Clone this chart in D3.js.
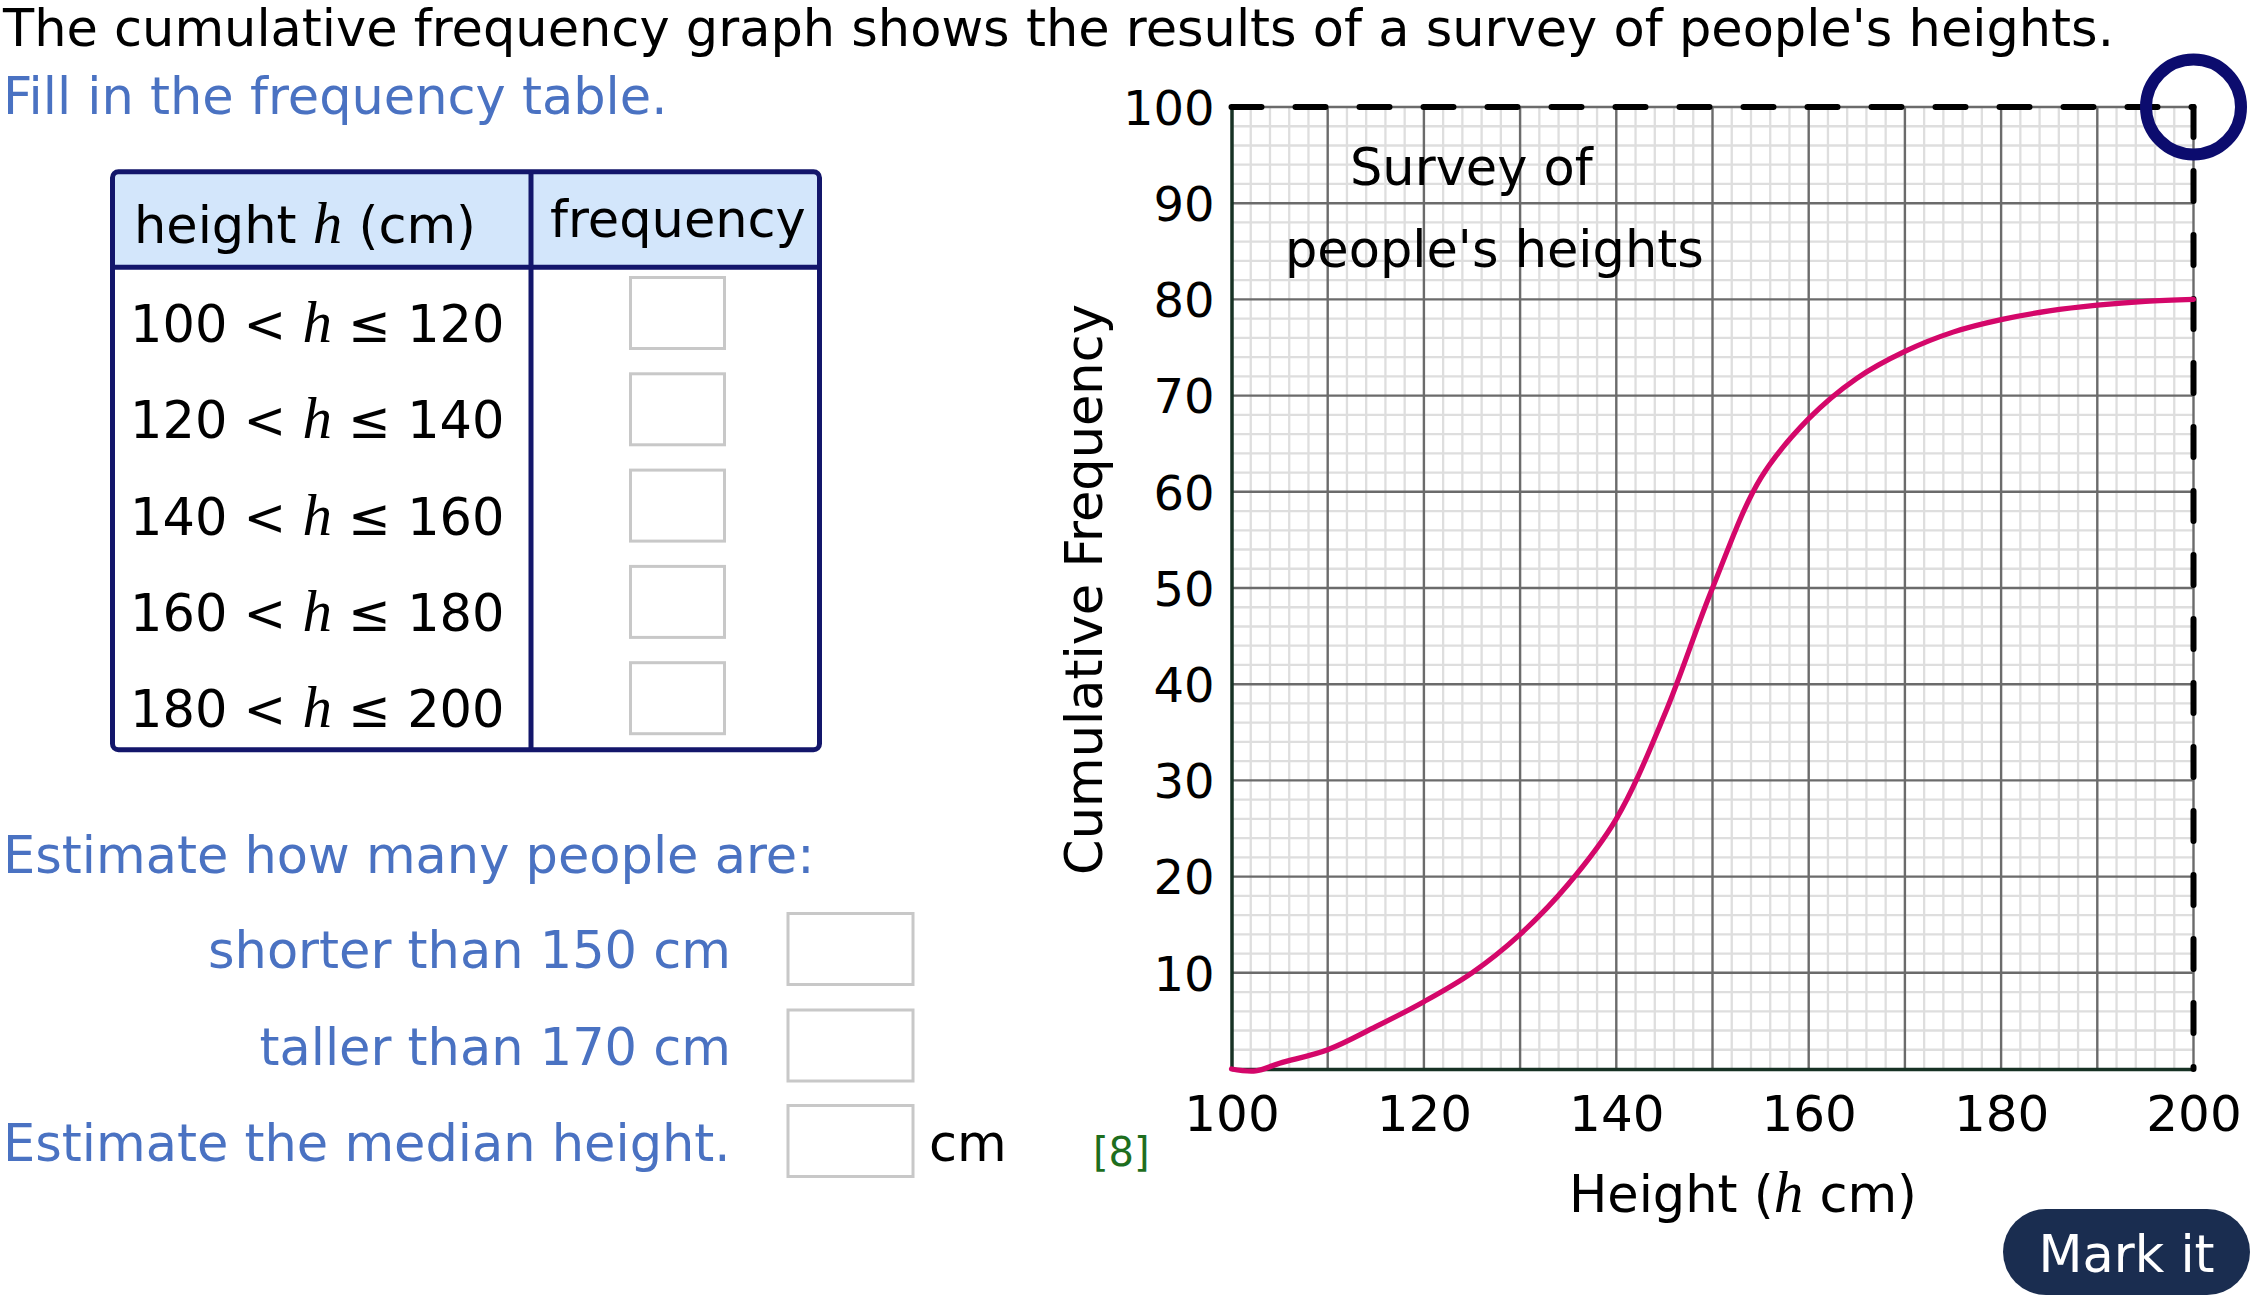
<!DOCTYPE html>
<html>
<head>
<meta charset="utf-8">
<script src="https://cdn.jsdelivr.net/npm/d3@7"></script>
<style>
  body { margin: 0; background: #fff; }
  svg { display: block; font-family: "DejaVu Sans", Verdana, sans-serif; }
</style>
</head>
<body>
<div id="page"></div>
<script>
// curve: height (cm) -> cumulative frequency
const heights = [100, 102.5, 105, 110, 115, 120, 125, 130, 135, 140, 145, 150, 155, 160, 165, 170, 175, 180, 185, 190, 195, 200];
const cumFreq = [0, -0.2, 0.6, 2.0, 4.4, 7.0, 10.0, 14.0, 19.2, 26.0, 36.8, 50, 61.4, 67.6, 71.8, 74.6, 76.6, 77.9, 78.8, 79.4, 79.8, 80];
const xTicks = [100, 120, 140, 160, 180, 200];
const yTicks = [10, 20, 30, 40, 50, 60, 70, 80, 90, 100];
const classLower = [100, 120, 140, 160, 180];
const classUpper = [120, 140, 160, 180, 200];
const questions = ["shorter than 150 cm", "taller than 170 cm"];
const totalPeople = 100;

const width = 2262, height = 1308;
const blue = "#4a72c2", navy = "#13166b", fs = 51;

const svg = d3.select("#page").append("svg")
    .attr("width", width)
    .attr("height", height);

// intro lines
svg.append("text")
    .attr("x", 3).attr("y", 46)
    .attr("font-size", fs)
    .text("The cumulative frequency graph shows the results of a survey of people's heights.");
svg.append("text")
    .attr("x", 3).attr("y", 114)
    .attr("font-size", fs).attr("fill", blue)
    .text("Fill in the frequency table.");

// helper: text with an italic serif h inside
function hText(sel, before, after) {
    sel.append("tspan").text(before);
    sel.append("tspan")
        .attr("font-family", "'Liberation Serif', serif")
        .attr("font-style", "italic")
        .attr("font-size", fs + 8)
        .text("h");
    sel.append("tspan").text(after);
    return sel;
}

// ---- frequency table
const tbl = { x: 112.5, y: 171.7, w: 707, h: 578, head: 95.5, col: 531, row: 96.3 };
const table = svg.append("g");
table.append("rect")
    .attr("x", tbl.x).attr("y", tbl.y)
    .attr("width", tbl.w).attr("height", tbl.head)
    .attr("fill", "#d3e6fb");
table.append("line")
    .attr("x1", tbl.x).attr("x2", tbl.x + tbl.w)
    .attr("y1", tbl.y + tbl.head).attr("y2", tbl.y + tbl.head)
    .attr("stroke", navy).attr("stroke-width", 5);
table.append("line")
    .attr("x1", tbl.col).attr("x2", tbl.col)
    .attr("y1", tbl.y).attr("y2", tbl.y + tbl.h)
    .attr("stroke", navy).attr("stroke-width", 5);
table.append("rect")
    .attr("x", tbl.x).attr("y", tbl.y)
    .attr("width", tbl.w).attr("height", tbl.h)
    .attr("rx", 6)
    .attr("fill", "none").attr("stroke", navy).attr("stroke-width", 5);

hText(table.append("text").attr("x", 134).attr("y", 243).attr("font-size", fs), "height ", " (cm)");
table.append("text")
    .attr("x", 550).attr("y", 237)
    .attr("font-size", fs)
    .text("frequency");

classLower.forEach((lo, i) => {
    hText(table.append("text")
        .attr("x", 130).attr("y", 342 + i * tbl.row)
        .attr("font-size", fs), lo + " < ", " \u2264 " + classUpper[i]);
    table.append("rect")
        .attr("x", 630.5).attr("y", 277.5 + i * tbl.row)
        .attr("width", 94).attr("height", 71)
        .attr("fill", "#fff").attr("stroke", "#c8c8c8").attr("stroke-width", 3);
});

// ---- estimate questions
svg.append("text")
    .attr("x", 3).attr("y", 873)
    .attr("font-size", fs).attr("fill", blue)
    .text("Estimate how many people are:");
questions.forEach((q, i) => {
    svg.append("text")
        .attr("x", 731).attr("y", 968 + i * 96.5)
        .attr("text-anchor", "end")
        .attr("font-size", fs).attr("fill", blue)
        .text(q);
});
svg.append("text")
    .attr("x", 3).attr("y", 1161)
    .attr("font-size", fs).attr("fill", blue)
    .text("Estimate the median height.");
[913.5, 1010, 1105.5].forEach(by => {
    svg.append("rect")
        .attr("x", 788).attr("y", by)
        .attr("width", 125).attr("height", 71)
        .attr("fill", "#fff").attr("stroke", "#c8c8c8").attr("stroke-width", 3);
});
svg.append("text")
    .attr("x", 929).attr("y", 1161)
    .attr("font-size", fs)
    .text("cm");
svg.append("text")
    .attr("x", 1093).attr("y", 1166)
    .attr("font-size", 40).attr("fill", "#1e6e1e")
    .text("[8]");

// ---- cumulative frequency graph
const x = d3.scaleLinear().domain([100, 200]).range([1231.5, 2193.5]);
const y = d3.scaleLinear().domain([0, totalPeople]).range([1069, 107]);
const chart = svg.append("g");

const minorX = d3.range(100, 201, 2).filter(v => v % 10);
const minorY = d3.range(0, 101, 2).filter(v => v % 10);
const majorX = d3.range(110, 201, 10);
const majorY = d3.range(10, 101, 10);

chart.selectAll(".minx").data(minorX).join("line")
    .attr("x1", d => x(d)).attr("x2", d => x(d))
    .attr("y1", y(0)).attr("y2", y(100))
    .attr("stroke", "#dedede").attr("stroke-width", 2.3);
chart.selectAll(".miny").data(minorY).join("line")
    .attr("x1", x(100)).attr("x2", x(200))
    .attr("y1", d => y(d)).attr("y2", d => y(d))
    .attr("stroke", "#dedede").attr("stroke-width", 2.3);
chart.selectAll(".majx").data(majorX).join("line")
    .attr("x1", d => x(d)).attr("x2", d => x(d))
    .attr("y1", y(0)).attr("y2", y(100))
    .attr("stroke", "#6b6b6b").attr("stroke-width", 2.4);
chart.selectAll(".majy").data(majorY).join("line")
    .attr("x1", x(100)).attr("x2", x(200))
    .attr("y1", d => y(d)).attr("y2", d => y(d))
    .attr("stroke", "#6b6b6b").attr("stroke-width", 2.4);

// axes
const xAxis = chart.append("g")
    .attr("transform", `translate(0,${y(0)})`)
    .call(d3.axisBottom(x).tickValues(xTicks).tickSize(0).tickSizeOuter(0));
xAxis.selectAll("text")
    .attr("y", 62).attr("dy", null)
    .attr("font-size", 50).attr("fill", "#000")
    .attr("font-family", "'DejaVu Sans', Verdana, sans-serif");

const yAxis = chart.append("g")
    .attr("transform", `translate(${x(100)},0)`)
    .call(d3.axisLeft(y).tickValues(yTicks).tickSize(0).tickSizeOuter(0));
yAxis.selectAll("text")
    .attr("x", -17).attr("dy", "0.36em")
    .attr("font-size", 48).attr("fill", "#000")
    .attr("font-family", "'DejaVu Sans', Verdana, sans-serif");
[xAxis, yAxis].forEach(a => a.select(".domain").attr("stroke", "#173224").attr("stroke-width", 3.5));

// dashed frame at 100 people
chart.append("path")
    .attr("d", d3.line()([[x(100), y(100)], [x(200), y(100)]]))
    .attr("fill", "none").attr("stroke", "#000")
    .attr("stroke-width", 6).attr("stroke-dasharray", "30,34").attr("stroke-linecap", "round");
chart.append("path")
    .attr("d", d3.line()([[x(200), y(100)], [x(200), y(0)]]))
    .attr("fill", "none").attr("stroke", "#000")
    .attr("stroke-width", 6).attr("stroke-dasharray", "30,34").attr("stroke-linecap", "round");

// the curve
const line = d3.line()
    .x((d, i) => x(heights[i]))
    .y(d => y(d))
    .curve(d3.curveCatmullRom.alpha(0.5));
chart.append("path")
    .attr("d", line(cumFreq))
    .attr("fill", "none")
    .attr("stroke", "#d4076a")
    .attr("stroke-width", 5.2)
    .attr("stroke-linecap", "round");

// chart title
chart.append("text")
    .attr("x", 1350).attr("y", 185)
    .attr("font-size", fs)
    .text("Survey of");
chart.append("text")
    .attr("x", 1285).attr("y", 267)
    .attr("font-size", fs)
    .text("people's heights");

// axis titles
hText(chart.append("text")
    .attr("x", 1743).attr("y", 1212)
    .attr("text-anchor", "middle")
    .attr("font-size", fs), "Height (", " cm)");
chart.append("text")
    .attr("transform", "translate(1102,589.5) rotate(-90)")
    .attr("text-anchor", "middle")
    .attr("font-size", fs)
    .text("Cumulative Frequency");

// marker circle at the top corner
chart.append("circle")
    .attr("cx", x(200)).attr("cy", y(100))
    .attr("r", 47.5)
    .attr("fill", "none").attr("stroke", "#0c0c6e").attr("stroke-width", 12);

// button
svg.append("rect")
    .attr("x", 2003).attr("y", 1209)
    .attr("width", 247).attr("height", 86)
    .attr("rx", 43)
    .attr("fill", "#1a2d50");
svg.append("text")
    .attr("x", 2126.5).attr("y", 1272)
    .attr("text-anchor", "middle")
    .attr("font-size", fs).attr("fill", "#fff")
    .text("Mark it");
</script>
</body>
</html>
